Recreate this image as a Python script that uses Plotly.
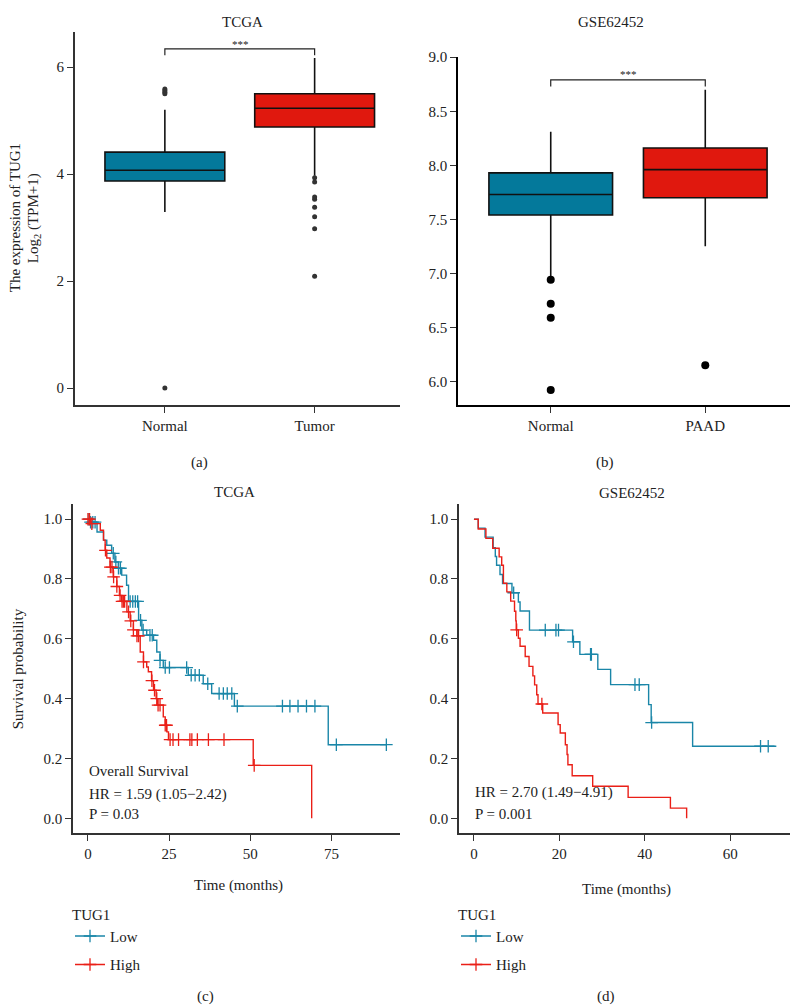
import numpy as np
import plotly.graph_objects as go

W, H = 798, 1008
# the page draws the plot div 8px from the left and ~16px from the top, and the
# photo comes out ~0.8% shorter, so positions read off the picture are mapped back
OFF_X, OFF_Y, SY = 8, 15.9, 0.992
FW, FH = W - OFF_X, 1000
FONT = "Liberation Serif"
TXT = "#222222"
BLUE_BOX = "#04799B"
RED_BOX = "#E0180E"
BLUE_KM = "#1A86A8"
RED_KM = "#EA1F17"

# (a) TCGA expression, box stats per group
tcga_groups = ["Normal", "Tumor"]
tcga_q1 = [3.87, 4.88]
tcga_median = [4.07, 5.23]
tcga_q3 = [4.41, 5.50]
tcga_lower = [3.29, 3.97]
tcga_upper = [5.20, 6.17]
tcga_out_normal = [5.50, 5.53, 5.56, 5.59, 0.0]
tcga_out_tumor = [3.93, 3.85, 3.57, 3.53, 3.38, 3.20, 2.98, 2.09]
tcga_bracket = 6.34

# (b) GSE62452 expression
gse_groups = ["Normal", "PAAD"]
gse_q1 = [7.54, 7.70]
gse_median = [7.73, 7.96]
gse_q3 = [7.93, 8.16]
gse_lower = [6.97, 7.25]
gse_upper = [8.31, 8.70]
gse_out_normal = [6.94, 6.72, 6.59, 5.92]
gse_out_paad = [6.15]
gse_bracket = 8.79

# (c) TCGA survival: event times / survival after event, censor times
tcga_low_t = [0.5, 2.8, 4.8, 5.8, 7.3, 8.3, 9.4, 10.4, 11.9, 12.5, 15.6, 16.6, 18.1,
              20.2, 21.2, 22.2, 23.2, 30.9, 35.5, 38.1, 45.1, 74.0]
tcga_low_s = [0.99, 0.957, 0.93, 0.913, 0.886, 0.857, 0.836, 0.813, 0.779, 0.725, 0.662,
              0.629, 0.612, 0.595, 0.556, 0.528, 0.504, 0.478, 0.45, 0.417, 0.375, 0.246]
tcga_low_cens = [0.3, 0.8, 1.5, 2.2, 7.8, 8.6, 9.4, 10.0, 13.0, 13.8, 14.6, 15.3, 16.2,
                 17.0, 19.1, 19.8, 22.2, 23.8, 25.1, 30.4, 31.8, 33.0, 34.3, 36.9, 40.4,
                 41.7, 42.9, 44.3, 46.0, 59.9, 62.2, 64.7, 67.3, 69.9, 76.5, 91.9]
tcga_high_t = [0.8, 3.8, 4.8, 5.3, 5.8, 6.8, 7.8, 8.9, 9.7, 10.4, 12.0, 13.0, 14.0, 15.1,
               16.1, 17.1, 18.1, 18.6, 19.6, 20.2, 21.0, 21.4, 23.2, 23.8, 24.3, 24.8,
               50.9, 68.9]
tcga_high_s = [0.985, 0.963, 0.93, 0.896, 0.87, 0.84, 0.807, 0.775, 0.745, 0.725, 0.69,
               0.66, 0.63, 0.61, 0.556, 0.523, 0.506, 0.49, 0.46, 0.428, 0.40, 0.378,
               0.339, 0.311, 0.289, 0.263, 0.177, 0.0]
tcga_high_cens = [0.0, 0.5, 1.2, 5.4, 6.9, 7.4, 7.9, 8.9, 9.9, 10.5, 10.9, 11.3, 12.5,
                  13.2, 14.0, 15.1, 15.6, 17.1, 19.7, 20.5, 21.2, 21.6, 22.2, 23.8, 24.2,
                  25.3, 26.2, 27.9, 31.4, 32.0, 33.7, 37.1, 41.9, 51.2]

# (d) GSE62452 survival
gse_low_t = [1.0, 2.6, 4.5, 5.0, 5.3, 6.1, 6.7, 8.9, 10.4, 10.8, 13.0, 23.1, 24.8, 29.0,
             32.0, 40.9, 41.5, 51.2]
gse_low_s = [0.97, 0.94, 0.905, 0.875, 0.846, 0.815, 0.785, 0.754, 0.723, 0.693, 0.629,
             0.59, 0.548, 0.498, 0.447, 0.38, 0.32, 0.241]
gse_low_cens = [9.3, 16.7, 19.2, 19.8, 23.3, 27.3, 27.5, 37.7, 38.7, 41.6, 67.1, 68.9]
gse_low_end = 70.8
gse_high_t = [1.0, 2.8, 4.4, 5.9, 6.5, 6.9, 7.7, 8.6, 9.5, 9.8, 9.9, 10.4, 10.8, 12.0,
              12.9, 13.8, 14.2, 14.7, 15.0, 16.1, 19.7, 20.2, 21.4, 21.8, 22.0, 23.0,
              27.8, 36.1, 46.0, 49.8]
gse_high_s = [0.967, 0.936, 0.903, 0.874, 0.846, 0.786, 0.757, 0.726, 0.692, 0.66, 0.63,
              0.602, 0.575, 0.541, 0.508, 0.476, 0.446, 0.413, 0.382, 0.352, 0.313,
              0.285, 0.246, 0.213, 0.179, 0.142, 0.107, 0.07, 0.034, 0.0]
gse_high_cens = [10.0, 15.9]


def fx(p):
  return (p - OFF_X) / FW


def fy(p):
  return 1 - (p / SY - OFF_Y) / FH


fig = go.Figure()


def add_box(groups, q1, med, q3, lo, hi, outs, xa, ya, out_color, out_size):
  for i, (g, col) in enumerate(zip(groups, [BLUE_BOX, RED_BOX])):
    fig.add_trace(go.Box(
      x=[g], q1=[q1[i]], median=[med[i]], q3=[q3[i]],
      lowerfence=[lo[i]], upperfence=[hi[i]],
      width=0.8, whiskerwidth=0, boxpoints=False,
      fillcolor=col, line=dict(color="#111111", width=1.6),
      xaxis=xa, yaxis=ya, showlegend=False,
    ))
    fig.add_trace(go.Scatter(
      x=[g] * len(outs[i]), y=outs[i], mode="markers",
      marker=dict(color=out_color, size=out_size),
      xaxis=xa, yaxis=ya, showlegend=False,
    ))


def add_bracket(groups, level, drop, xa, ya):
  fig.add_trace(go.Scatter(
    x=[groups[0], groups[0], groups[1], groups[1]],
    y=[level - drop, level, level, level - drop],
    mode="lines", line=dict(color="#222222", width=1.2),
    xaxis=xa, yaxis=ya, showlegend=False,
  ))


def add_km(times, surv, cens, color, xa, ya, end=None):
  t = np.array(times)
  s = np.array(surv)
  stop = max([t[-1]] + list(cens) + ([end] if end else []))
  xs = np.concatenate([[0], t, [stop]])
  ys = np.concatenate([[1.0], s, [s[-1]]])
  fig.add_trace(go.Scatter(
    x=xs, y=ys, mode="lines", line=dict(color=color, width=1.4, shape="hv"),
    xaxis=xa, yaxis=ya, showlegend=False,
  ))
  idx = np.searchsorted(t, cens, side="right")
  cy = np.where(idx == 0, 1.0, s[np.maximum(idx - 1, 0)])
  fig.add_trace(go.Scatter(
    x=cens, y=cy, mode="markers",
    marker=dict(symbol="cross-thin", size=9, line=dict(color=color, width=1.3)),
    xaxis=xa, yaxis=ya, showlegend=False,
  ))


add_box(tcga_groups, tcga_q1, tcga_median, tcga_q3, tcga_lower, tcga_upper,
        [tcga_out_normal, tcga_out_tumor], "x", "y", "#333333", 5)
add_bracket(tcga_groups, tcga_bracket, 0.12, "x", "y")
add_box(gse_groups, gse_q1, gse_median, gse_q3, gse_lower, gse_upper,
        [gse_out_normal, gse_out_paad], "x2", "y2", "#000000", 8)
add_bracket(gse_groups, gse_bracket, 0.06, "x2", "y2")

add_km(tcga_low_t, tcga_low_s, tcga_low_cens, BLUE_KM, "x3", "y3")
add_km(tcga_high_t, tcga_high_s, tcga_high_cens, RED_KM, "x3", "y3")
add_km(gse_low_t, gse_low_s, gse_low_cens, BLUE_KM, "x4", "y4", end=gse_low_end)
add_km(gse_high_t, gse_high_s, gse_high_cens, RED_KM, "x4", "y4")

# legend entries
for lg, xa, ya in [("legend", "x3", "y3"), ("legend2", "x4", "y4")]:
  for name, col in [("Low", BLUE_KM), ("High", RED_KM)]:
    fig.add_trace(go.Scatter(
      x=[None], y=[None], mode="lines+markers", name=name, legend=lg,
      legendgroup=lg + name,
      line=dict(color=col, width=1.6),
      marker=dict(symbol="cross-thin", size=9, line=dict(color=col, width=1.3)),
      xaxis=xa, yaxis=ya,
    ))


def axis(**kw):
  d = dict(showline=True, linecolor="#333333", linewidth=1.6, ticks="outside",
           ticklen=6, tickwidth=1.4, tickcolor="#333333", showgrid=False,
           zeroline=False, mirror=False,
           tickfont=dict(family=FONT, size=15, color=TXT))
  d.update(kw)
  return d


def note(text, x, y, size=15, xanchor="center", **kw):
  return dict(text=text, x=fx(x), y=fy(y), xref="paper", yref="paper",
              xanchor=xanchor, yanchor="middle", showarrow=False,
              font=dict(family=FONT, size=size, color=TXT), **kw)


km_y = dict(range=[-0.05, 1.05], tickvals=[0, 0.2, 0.4, 0.6, 0.8, 1.0], tickformat=".1f")
leg = dict(xanchor="left", yanchor="top",
           title=dict(text="TUG1", font=dict(family=FONT, size=15, color=TXT)),
           font=dict(family=FONT, size=15, color=TXT), tracegroupgap=6,
           bgcolor="rgba(0,0,0,0)")

fig.update_layout(
  width=FW, height=FH,
  margin=dict(l=0, r=0, t=0, b=0),
  paper_bgcolor="white", plot_bgcolor="white",
  font=dict(family=FONT, size=15, color=TXT),
  xaxis=axis(domain=[fx(75), fx(400)], anchor="y", type="category",
             categoryarray=tcga_groups, range=[-0.6, 1.57], linewidth=2),
  yaxis=axis(domain=[fy(405), fy(32)], anchor="x", range=[-0.32, 6.65],
             tickvals=[0, 2, 4, 6], linewidth=2),
  xaxis2=axis(domain=[fx(458), 1.0], anchor="y2", type="category",
              categoryarray=gse_groups, range=[-0.6, 1.6], linecolor="#000000"),
  yaxis2=axis(domain=[fy(405), fy(57)], anchor="x2", range=[5.78, 9.0],
              tickvals=[6.0, 6.5, 7.0, 7.5, 8.0, 8.5, 9.0], tickformat=".1f",
              linecolor="#000000"),
  xaxis3=axis(domain=[fx(73), fx(400)], anchor="y3", range=[-4.6, 96.1],
              tickvals=[0, 25, 50, 75]),
  yaxis3=axis(domain=[fy(833), fy(504)], anchor="x3", **km_y),
  xaxis4=axis(domain=[fx(459), fx(790)], anchor="y4", range=[-3.5, 74],
              tickvals=[0, 20, 40, 60]),
  yaxis4=axis(domain=[fy(833), fy(504)], anchor="x4", **km_y),
  legend=dict(x=fx(70), y=fy(900), **leg),
  legend2=dict(x=fx(456), y=fy(900), **leg),
  annotations=[
    note("TCGA", 243, 22),
    note("GSE62452", 611, 22),
    note("***", 240, 44, size=11),
    note("***", 628, 74, size=11),
    note("The expression of TUG1", 15, 218, textangle=-90),
    note("Log<sub>2</sub> (TPM+1)", 34, 218, textangle=-90),
    note("(a)", 199, 462),
    note("(b)", 605, 462),
    note("TCGA", 235, 492),
    note("GSE62452", 632, 493),
    note("Survival probability", 18, 669, textangle=-90),
    note("Overall Survival", 87, 771, xanchor="left"),
    note("HR = 1.59 (1.05\u22122.42)", 87, 794, xanchor="left"),
    note("P = 0.03", 87, 814, xanchor="left"),
    note("HR = 2.70 (1.49\u22124.91)", 473, 792, xanchor="left"),
    note("P = 0.001", 473, 814, xanchor="left"),
    note("Time (months)", 238, 885),
    note("Time (months)", 626, 889),
    note("(c)", 205, 996),
    note("(d)", 606, 996),
  ],
)

fig.write_html("out.html")
